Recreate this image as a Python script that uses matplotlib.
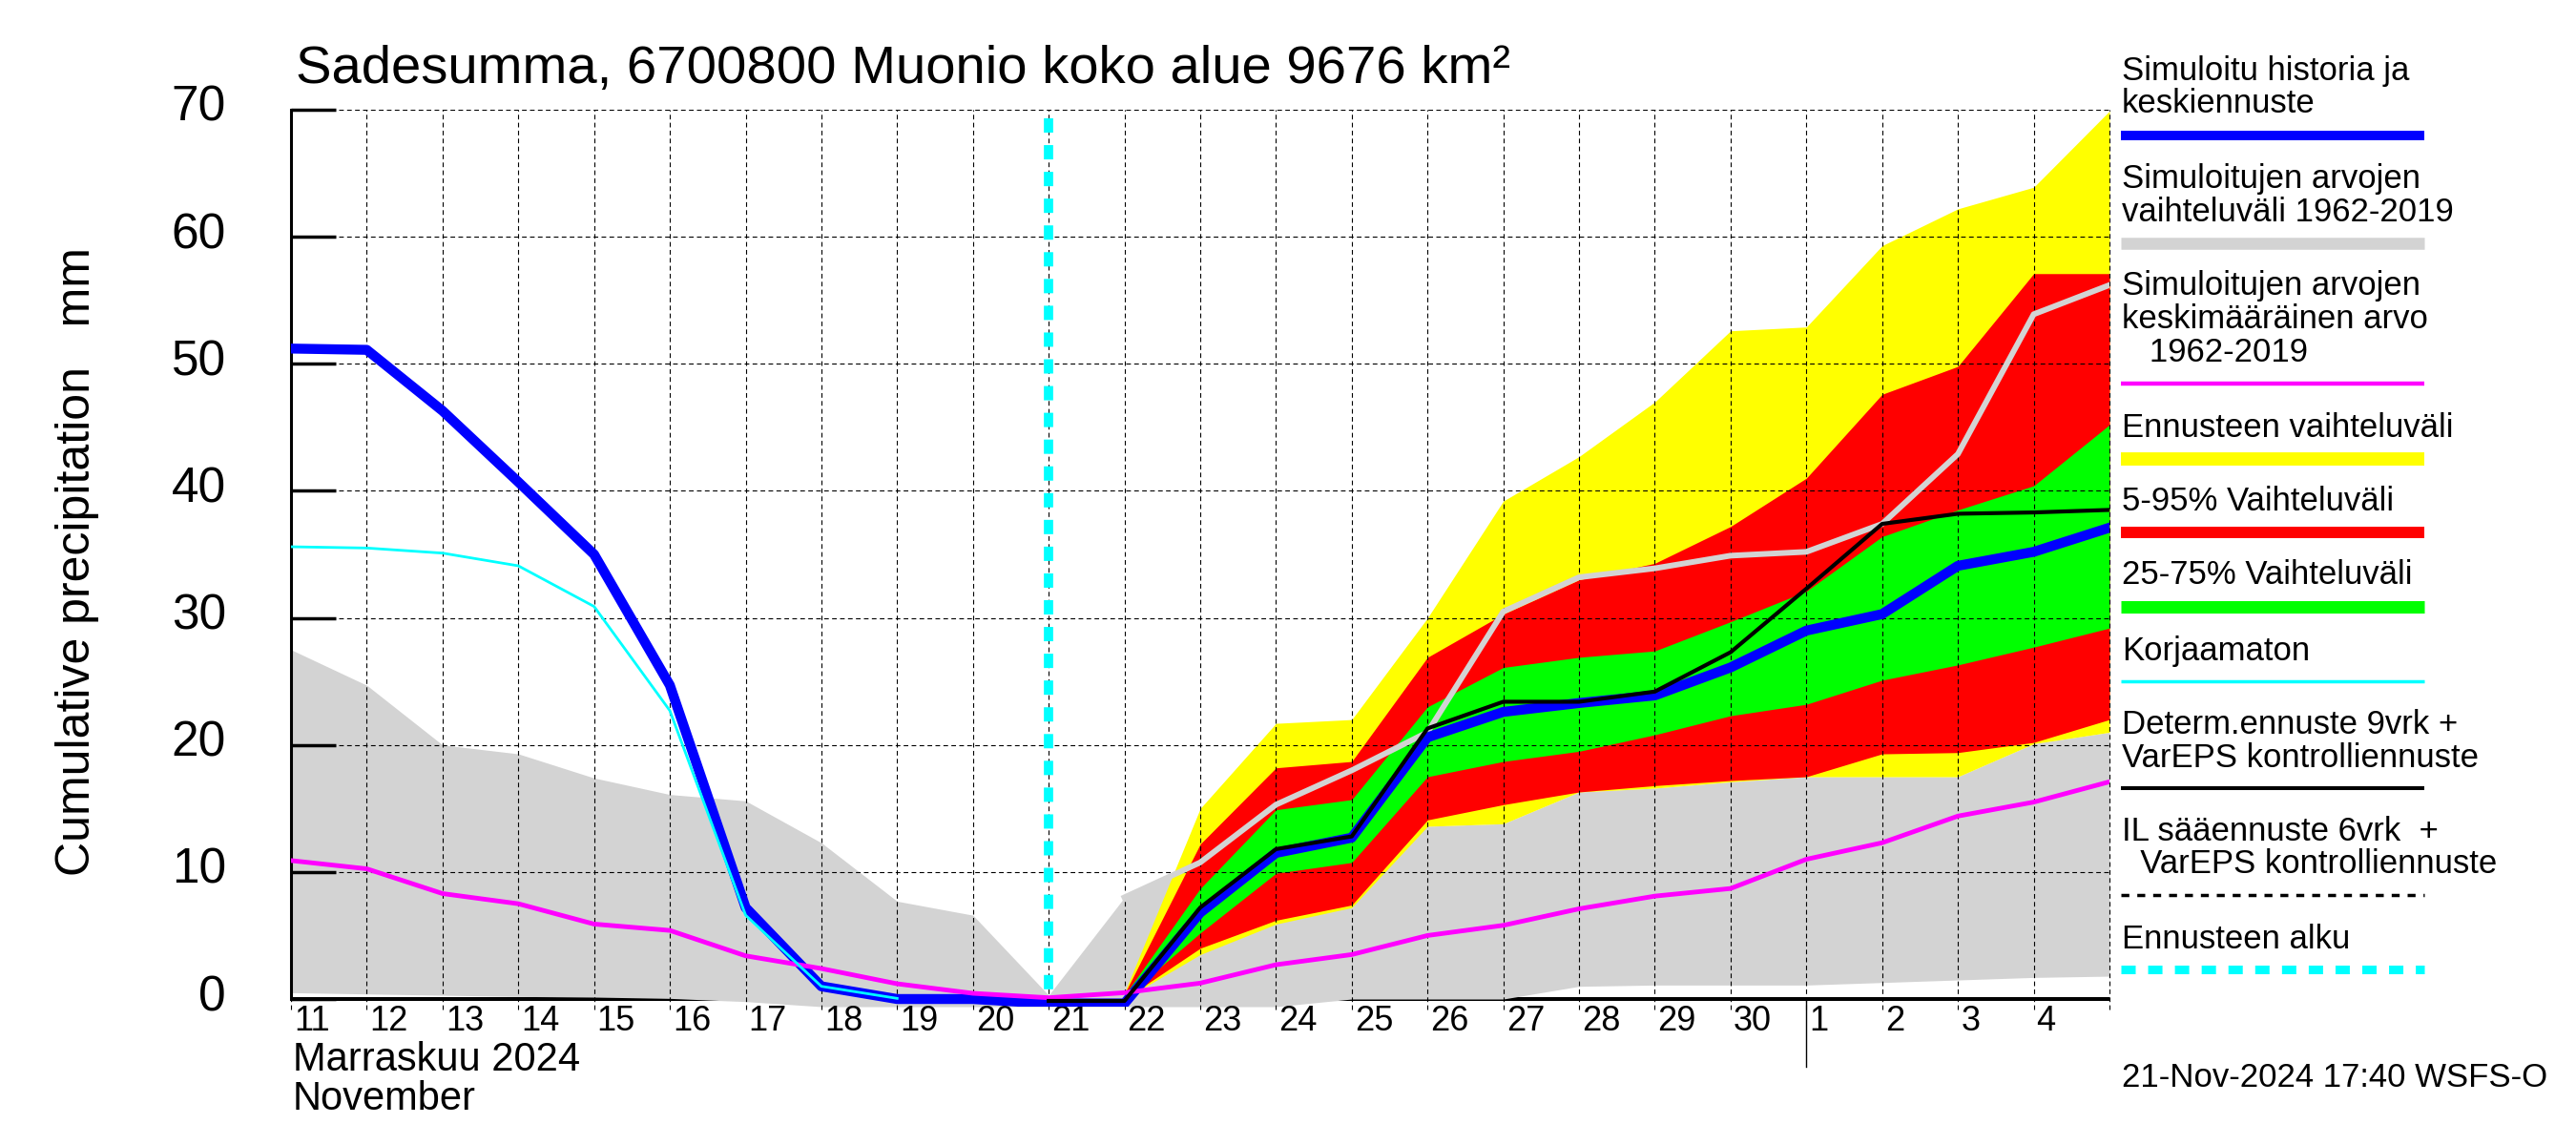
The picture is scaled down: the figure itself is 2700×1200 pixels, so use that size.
import numpy as np
import matplotlib
matplotlib.use("Agg")
import matplotlib.pyplot as plt
from matplotlib.transforms import offset_copy

plt.rcParams['font.family'] = ['Liberation Sans', 'DejaVu Sans']
plt.rcParams['lines.scale_dashes'] = False

# 11.11.2024 ... 5.12.2024, one value per day
day_labels = ['11', '12', '13', '14', '15', '16', '17', '18', '19', '20',
              '21', '22', '23', '24', '25', '26', '27', '28', '29', '30',
              '1', '2', '3', '4']
x = np.arange(25)
fc_start = 10      # 21 Nov
month_start = 20   # 1 Dec

nan = np.nan
hist_hi = [27.5, 24.7, 20.0, 19.3, 17.4, 16.1, 15.6, 12.3, 7.7, 6.6, 0.3, 8.0,
           11.0, 12.0, 12.8, 13.6, 13.8, 16.3, 16.6, 17.1, 17.5, 17.5, 17.5, 20.1, 21.0]
hist_lo = [0.5, 0.4, 0.3, 0.2, 0.15, 0.05, -0.2, -0.6, -0.6, -0.6, -0.6, -0.6,
           -0.6, -0.6, 0.0, 0.0, 0.0, 1.0, 1.1, 1.1, 1.1, 1.3, 1.5, 1.7, 1.8]
hist_mean = [10.9, 10.25, 8.3, 7.5, 5.9, 5.4, 3.4, 2.4, 1.2, 0.45, 0.1, 0.5,
             1.25, 2.7, 3.5, 5.0, 5.8, 7.1, 8.1, 8.7, 11.0, 12.3, 14.4, 15.5, 17.1]
simulated = [51.2, 51.1, 46.3, 40.7, 35.0, 24.7, 7.2, 1.0, 0.0, 0.0, -0.35, -0.35,
             6.8, 11.5, 12.7, 20.6, 22.6, 23.3, 23.9, 26.1, 29.0, 30.3, 34.1, 35.2, 37.1]
uncorrected = [35.6, 35.5, 35.1, 34.1, 30.9, 22.7, 6.6, 1.0, 0.05, nan, nan, nan,
               nan, nan, nan, nan, nan, nan, nan, nan, nan, nan, nan, nan, nan]
determ = [nan, nan, nan, nan, nan, nan, nan, nan, nan, nan, -0.15, -0.15,
          7.2, 11.8, 12.8, 21.3, 23.4, 23.4, 24.2, 27.3, 32.3, 37.4, 38.2, 38.3, 38.5]
grey_line = [nan, nan, nan, nan, nan, nan, nan, nan, nan, nan, nan, 8.0,
             10.75, 15.3, 18.0, 21.0, 30.5, 33.2, 33.9, 34.9, 35.2, 37.4, 42.9, 53.9, 56.2]

# ensemble forecast, 22 Nov ... 5 Dec
fc_x = x[11:]
fc_max = [0.5, 15.0, 21.7, 22.0, 30.0, 39.2, 42.7, 47.0, 52.6, 52.9, 59.3, 62.2, 63.9, 69.9]
fc_p95 = [0.4, 12.2, 18.2, 18.7, 26.9, 30.3, 33.0, 34.3, 37.2, 41.0, 47.6, 49.8, 57.1, 57.1]
fc_p75 = [0.3, 8.7, 14.9, 15.7, 23.0, 26.1, 26.9, 27.4, 29.7, 32.1, 36.4, 38.5, 40.4, 45.2]
fc_p25 = [0.1, 5.2, 9.9, 10.75, 17.5, 18.7, 19.5, 20.8, 22.3, 23.2, 25.1, 26.3, 27.7, 29.2]
fc_p5 = [0.0, 4.0, 6.2, 7.4, 14.1, 15.3, 16.3, 16.8, 17.2, 17.5, 19.3, 19.4, 20.2, 22.0]
fc_min = [0.0, 3.5, 5.9, 7.2, 13.6, 13.8, 16.3, 16.6, 17.1, 17.5, 17.5, 17.5, 20.1, 21.0]

W, H = 2700, 1200
fig = plt.figure(figsize=(W / 100, H / 100), dpi=100)
ax_left, ax_right, ax_top, ax_bot = 305, 2211, 115, 1055
ax = fig.add_axes([ax_left / W, 1 - ax_bot / H, (ax_right - ax_left) / W, (ax_bot - ax_top) / H])
ax.set_xlim(0, 24)
ax.set_ylim(-0.6, 70)
for s in ['top', 'right', 'bottom']:
    ax.spines[s].set_visible(False)
ax.spines['left'].set_bounds(0, 70)
ax.spines['left'].set_linewidth(2.2)
ax.set_xticks([])
ax.set_yticks(range(0, 71, 10))
ax.tick_params(axis='y', direction='in', length=34, width=2.5, labelleft=False)

grid_dash = (0, (3.5, 2.5))
ax.hlines(range(10, 71, 10), 0, 24, colors='k', lw=0.8, linestyles=[grid_dash], zorder=3)
ax.vlines(x, -0.8, 70, colors='k', lw=0.8, linestyles=[grid_dash], zorder=3, clip_on=False)

ax.plot([0, 24], [0, 0], color='k', lw=2.9, solid_capstyle='butt', zorder=1)
ax.plot([month_start, month_start], [0, -5.3], color='k', lw=1, clip_on=False)

ax.fill_between(x, hist_lo, hist_hi, color='#d3d3d3', lw=0, zorder=1.5)
ax.fill_between(fc_x, fc_min, fc_max, color='#ffff00', lw=0, zorder=2)
ax.fill_between(fc_x, fc_p5, fc_p95, color='#ff0000', lw=0, zorder=2.1)
ax.fill_between(fc_x, fc_p25, fc_p75, color='#00ff00', lw=0, zorder=2.2)

ax.plot(x, grey_line, color='#d3d3d3', lw=4.3, zorder=3.5)
ax.plot(x, simulated, color='#0000ff', lw=7.5, zorder=5)
ax.plot(x, hist_mean, color='#ff00ff', lw=3.5, zorder=5.2)
ax.plot(x, uncorrected, color='#00ffff', lw=2, zorder=5.5)
ax.plot(x, determ, color='k', lw=3, zorder=6)
ax.plot([fc_start, fc_start], [69.3, 0.5], color='#00ffff', lw=7,
        dashes=(10.8, 9.4), zorder=7)

for v in range(0, 71, 10):
    ax.text(0, v, str(v), transform=offset_copy(ax.transData, fig, x=-68, y=-12, units='dots'),
            ha='right', va='baseline', fontsize=37)
for i, lab in enumerate(day_labels):
    ax.text(i, 0, lab, transform=offset_copy(ax.transData, fig, x=3, y=-33, units='dots'),
            ha='left', va='baseline', fontsize=26)
ax.text(0, 0, 'Marraskuu 2024', transform=offset_copy(ax.transData, fig, x=2, y=-75, units='dots'),
        ha='left', va='baseline', fontsize=30)
ax.text(0, 0, 'November', transform=offset_copy(ax.transData, fig, x=2, y=-116, units='dots'),
        ha='left', va='baseline', fontsize=30)

fig.text(310 / W, 1 - 87 / H, 'Sadesumma, 6700800 Muonio koko alue 9676 km²',
         ha='left', va='baseline', fontsize=40.5)
fig.text(81 / W, 1 - 589 / H, 'Cumulative precipitation   mm', rotation=90,
         ha='center', va='center', fontsize=36)

# legend, in pixel coordinates
lax = fig.add_axes([0, 0, 1, 1])
lax.set_xlim(0, W)
lax.set_ylim(H, 0)
lax.axis('off')

legend = [
    (['Simuloitu historia ja', 'keskiennuste'], [84, 118], 142, '#0000ff', 7.2, None),
    (['Simuloitujen arvojen', 'vaihteluväli 1962-2019'], [197, 232], 254.5, '#d3d3d3', 9, None),
    (['Simuloitujen arvojen', 'keskimääräinen arvo', '   1962-2019'], [309, 344, 379], 402, '#ff00ff', 3.2, None),
    (['Ennusteen vaihteluväli'], [458], 481, '#ffff00', 10, None),
    (['5-95% Vaihteluväli'], [535], 557.5, '#ff0000', 8.6, None),
    (['25-75% Vaihteluväli'], [612], 635.5, '#00ff00', 9.4, None),
    (['Korjaamaton'], [692], 713.5, '#00ffff', 2.5, None),
    (['Determ.ennuste 9vrk +', 'VarEPS kontrolliennuste'], [769, 804], 826, 'k', 2.9, None),
    (['IL sääennuste 6vrk  +', '  VarEPS kontrolliennuste'], [881, 915], 938, 'k', 2.5, (6, 6)),
    (['Ennusteen alku'], [994], 1016, '#00ffff', 6.5, (10.8, 9.4)),
]
for lines, ys, bar_y, col, lw, dash in legend:
    for t, yb in zip(lines, ys):
        lax.text(2224, yb, t, ha='left', va='baseline', fontsize=25)
    ln, = lax.plot([2223, 2541], [bar_y, bar_y], color=col, lw=lw, solid_capstyle='butt',
                   dash_capstyle='butt')
    if dash:
        ln.set_dashes(dash)
lax.text(2224, 1139, '21-Nov-2024 17:40 WSFS-O', ha='left', va='baseline', fontsize=25)

fig.savefig('out.png', dpi=100)
